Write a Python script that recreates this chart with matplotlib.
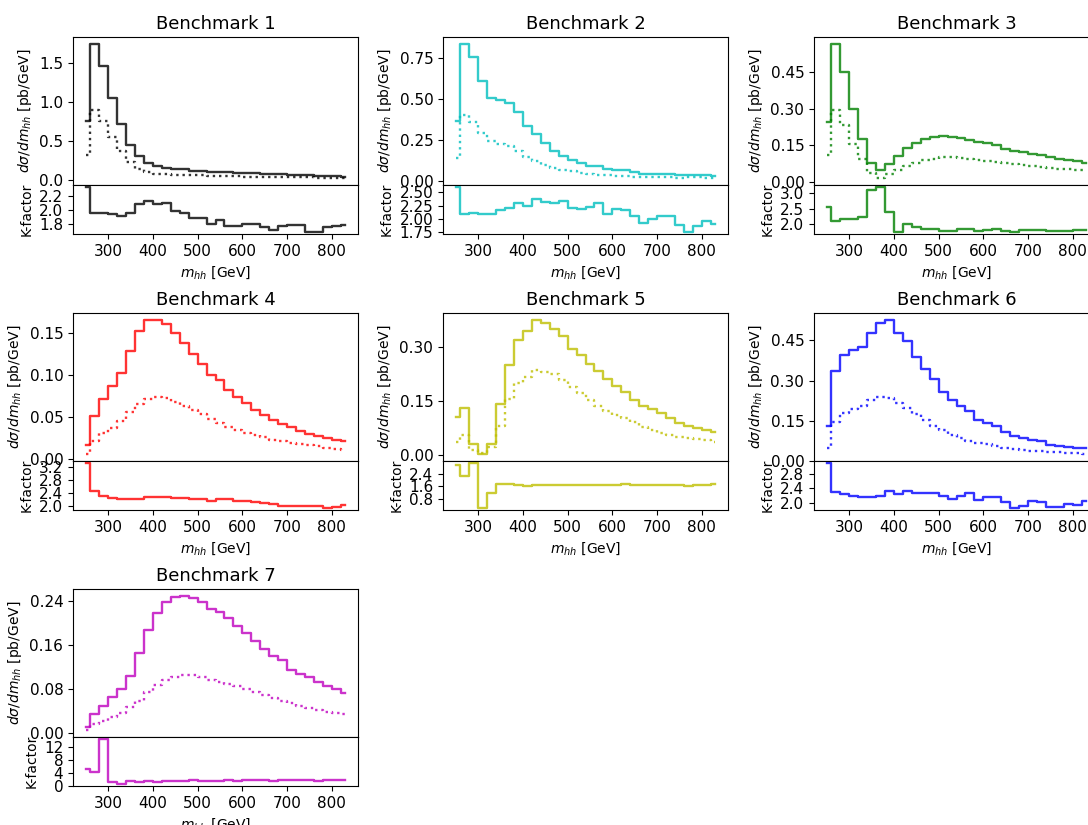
import matplotlib
matplotlib.use('Agg')
import matplotlib.pyplot as plt

# bin centres of m_hh [GeV]
mhh = [250, 270, 290, 310, 330, 350, 370, 390, 410, 430,
       450, 470, 490, 510, 530, 550, 570, 590, 610, 630,
       650, 670, 690, 710, 730, 750, 770, 790, 810, 830]
x_ticks = [300, 400, 500, 600, 700, 800]

# Benchmark 1
nlo_1 = [0.76, 1.75, 1.47, 1.06, 0.72, 0.45, 0.31, 0.22, 0.18, 0.165,
         0.145, 0.145, 0.125, 0.125, 0.105, 0.105, 0.105, 0.09, 0.09, 0.09,
         0.085, 0.085, 0.085, 0.07, 0.07, 0.07, 0.055, 0.055, 0.052, 0.05]
lo_1 = [0.33, 0.90, 0.76, 0.55, 0.38, 0.23, 0.15, 0.103, 0.087, 0.079,
        0.073, 0.074, 0.066, 0.066, 0.058, 0.056, 0.059, 0.051, 0.05, 0.05,
        0.048, 0.049, 0.048, 0.039, 0.039, 0.041, 0.033, 0.031, 0.029, 0.028]
kf_1 = [2.32, 1.95, 1.96, 1.94, 1.92, 1.95, 2.08, 2.13, 2.08, 2.10,
        1.99, 1.96, 1.88, 1.88, 1.80, 1.86, 1.77, 1.77, 1.80, 1.80,
        1.76, 1.72, 1.77, 1.78, 1.78, 1.69, 1.69, 1.76, 1.77, 1.79]

# Benchmark 2
nlo_2 = [0.37, 0.84, 0.76, 0.61, 0.505, 0.495, 0.475, 0.42, 0.335, 0.29,
         0.23, 0.185, 0.155, 0.13, 0.11, 0.095, 0.09, 0.075, 0.065, 0.065,
         0.055, 0.045, 0.045, 0.045, 0.045, 0.04, 0.04, 0.04, 0.037, 0.033]
lo_2 = [0.142, 0.404, 0.36, 0.293, 0.243, 0.228, 0.215, 0.183, 0.149, 0.122,
        0.099, 0.080, 0.067, 0.059, 0.050, 0.043, 0.039, 0.036, 0.030, 0.030,
        0.027, 0.024, 0.023, 0.022, 0.022, 0.021, 0.023, 0.022, 0.019, 0.017]
kf_2 = [2.60, 2.08, 2.11, 2.08, 2.08, 2.17, 2.21, 2.30, 2.25, 2.37,
        2.32, 2.30, 2.33, 2.21, 2.18, 2.23, 2.29, 2.09, 2.18, 2.16,
        2.06, 1.91, 1.99, 2.05, 2.05, 1.87, 1.75, 1.86, 1.95, 1.90]

# Benchmark 3
nlo_3 = [0.245, 0.566, 0.45, 0.30, 0.177, 0.076, 0.049, 0.074, 0.108, 0.139,
         0.161, 0.177, 0.183, 0.188, 0.186, 0.18, 0.172, 0.164, 0.158, 0.15,
         0.136, 0.128, 0.123, 0.115, 0.109, 0.101, 0.094, 0.09, 0.085, 0.079]
lo_3 = [0.11, 0.293, 0.232, 0.157, 0.093, 0.035, 0.015, 0.031, 0.049, 0.065,
        0.079, 0.089, 0.095, 0.101, 0.101, 0.097, 0.093, 0.089, 0.086, 0.082,
        0.078, 0.074, 0.07, 0.066, 0.061, 0.058, 0.055, 0.052, 0.05, 0.048]
kf_3 = [2.57, 2.11, 2.16, 2.16, 2.22, 3.11, 3.20, 2.38, 1.75, 2.00,
        1.91, 1.85, 1.85, 1.78, 1.78, 1.83, 1.83, 1.76, 1.80, 1.84,
        1.78, 1.75, 1.80, 1.80, 1.80, 1.76, 1.76, 1.78, 1.80, 1.80]

# Benchmark 4
nlo_4 = [0.0167, 0.051, 0.0716, 0.087, 0.102, 0.128, 0.152, 0.1655, 0.1655, 0.161,
         0.15, 0.1376, 0.125, 0.1126, 0.1, 0.0935, 0.0823, 0.0736, 0.0664, 0.0585,
         0.052, 0.0465, 0.0414, 0.0378, 0.0334, 0.0302, 0.0274, 0.025, 0.0227, 0.022]
lo_4 = [0.006, 0.0215, 0.031, 0.0374, 0.0457, 0.0565, 0.0656, 0.072, 0.0744, 0.0728,
        0.0684, 0.0632, 0.0585, 0.0537, 0.0481, 0.0434, 0.0386, 0.0346, 0.0314, 0.0286,
        0.0259, 0.0235, 0.0215, 0.0199, 0.0183, 0.0167, 0.0155, 0.0139, 0.0127, 0.0111]
kf_4 = [3.30, 2.46, 2.31, 2.25, 2.21, 2.21, 2.23, 2.29, 2.29, 2.29,
        2.25, 2.25, 2.22, 2.22, 2.16, 2.22, 2.22, 2.16, 2.16, 2.13,
        2.09, 2.07, 2.02, 2.02, 2.02, 2.02, 2.02, 1.96, 1.99, 2.05]

# Benchmark 5
nlo_5 = [0.107, 0.13, 0.0325, 0.003, 0.0325, 0.142, 0.25, 0.317, 0.343, 0.374,
         0.364, 0.349, 0.33, 0.294, 0.276, 0.253, 0.232, 0.211, 0.19, 0.175,
         0.154, 0.137, 0.127, 0.117, 0.104, 0.09, 0.081, 0.075, 0.0706, 0.064]
lo_5 = [0.036, 0.055, 0.015, 0.0056, 0.024, 0.081, 0.156, 0.199, 0.217, 0.234,
        0.231, 0.224, 0.208, 0.189, 0.171, 0.152, 0.136, 0.121, 0.11, 0.104,
        0.092, 0.078, 0.069, 0.062, 0.057, 0.052, 0.048, 0.045, 0.041, 0.038]
kf_5 = [2.94, 2.25, 3.06, 0.26, 1.22, 1.74, 1.74, 1.72, 1.66, 1.70,
        1.70, 1.70, 1.70, 1.68, 1.70, 1.70, 1.70, 1.70, 1.70, 1.74,
        1.70, 1.70, 1.70, 1.72, 1.72, 1.68, 1.66, 1.70, 1.70, 1.74]

# Benchmark 6
nlo_6 = [0.129, 0.337, 0.394, 0.413, 0.425, 0.477, 0.515, 0.527, 0.477, 0.449,
         0.388, 0.343, 0.305, 0.257, 0.229, 0.206, 0.185, 0.154, 0.142, 0.129,
         0.107, 0.092, 0.085, 0.08, 0.073, 0.061, 0.057, 0.052, 0.048, 0.048]
lo_6 = [0.047, 0.144, 0.179, 0.194, 0.206, 0.226, 0.239, 0.234, 0.216, 0.198,
        0.177, 0.154, 0.129, 0.117, 0.098, 0.086, 0.076, 0.067, 0.062, 0.057,
        0.05, 0.045, 0.041, 0.039, 0.036, 0.034, 0.032, 0.03, 0.029, 0.027]
kf_6 = [3.08, 2.31, 2.25, 2.20, 2.17, 2.17, 2.20, 2.32, 2.24, 2.33,
        2.26, 2.26, 2.26, 2.20, 2.12, 2.20, 2.28, 2.08, 2.15, 2.15,
        2.02, 1.87, 1.93, 2.06, 2.03, 1.89, 1.89, 1.98, 1.94, 2.06]

# Benchmark 7
nlo_7 = [0.011, 0.034, 0.05, 0.065, 0.081, 0.103, 0.145, 0.187, 0.219, 0.238,
         0.247, 0.25, 0.245, 0.239, 0.226, 0.22, 0.209, 0.195, 0.183, 0.167,
         0.153, 0.141, 0.133, 0.114, 0.107, 0.102, 0.092, 0.085, 0.081, 0.073]
lo_7 = [0.005, 0.016, 0.022, 0.029, 0.036, 0.047, 0.059, 0.074, 0.087, 0.097,
        0.102, 0.105, 0.1055, 0.102, 0.097, 0.092, 0.09, 0.085, 0.081, 0.075,
        0.07, 0.064, 0.059, 0.055, 0.05, 0.046, 0.042, 0.039, 0.036, 0.035]
kf_7 = [5.3, 4.4, 14.4, 1.2, 0.7, 1.6, 1.2, 1.5, 1.2, 1.5,
        1.5, 1.6, 1.8, 1.6, 1.6, 1.6, 1.8, 1.6, 1.8, 1.8,
        1.8, 1.6, 1.8, 1.8, 1.8, 1.8, 1.6, 1.8, 1.8, 1.8]

nlo = [nlo_1, nlo_2, nlo_3, nlo_4, nlo_5, nlo_6, nlo_7]
lo = [lo_1, lo_2, lo_3, lo_4, lo_5, lo_6, lo_7]
kf = [kf_1, kf_2, kf_3, kf_4, kf_5, kf_6, kf_7]
colors = ['k', 'c', 'g', 'r', 'y', 'b', 'm']

main_ticks = [[0, 0.5, 1.0, 1.5], [0, 0.25, 0.5, 0.75], [0, 0.15, 0.3, 0.45],
              [0, 0.05, 0.1, 0.15], [0, 0.15, 0.3], [0, 0.15, 0.3, 0.45],
              [0, 0.08, 0.16, 0.24]]
k_ticks = [[1.8, 2.0, 2.2], [1.75, 2.0, 2.25, 2.5], [2.0, 2.5, 3.0],
           [2.0, 2.4, 2.8, 3.2], [0.8, 1.6, 2.4], [2.0, 2.4, 2.8], [0, 4, 8, 12]]

W, H = 1088, 825
col_left = [73, 443, 814]
row_top = [37, 313, 589]


def px_axes(fig, x, y, w, h, **kw):
    return fig.add_axes([x / W, 1 - (y + h) / H, w / W, h / H], **kw)


def plot_benchmarks():
    plt.rcParams['font.size'] = 11
    plt.rcParams['axes.labelsize'] = 10
    plt.rcParams['axes.titlesize'] = 13
    fig = plt.figure(figsize=(W / 100, H / 100), dpi=100)
    for i in range(7):
        r, c = divmod(i, 3)
        ax = px_axes(fig, col_left[c], row_top[r], 285, 148)
        rax = px_axes(fig, col_left[c], row_top[r] + 148, 285, 49, sharex=ax)

        ax.step(mhh, nlo[i], where='mid', color=colors[i], alpha=0.8, lw=1.7)
        ax.step(mhh, lo[i], where='mid', color=colors[i], alpha=0.8, lw=1.7, ls=':')
        ax.set_yticks(main_ticks[i])
        ax.tick_params(labelbottom=False)
        ax.set_ylabel(r'$d\sigma/dm_{hh}$ [pb/GeV]')
        ax.set_title('Benchmark %d' % (i + 1))

        rax.step(mhh, kf[i], where='mid', color=colors[i], alpha=0.8, lw=1.7)
        rax.set_yticks(k_ticks[i])
        rax.set_xticks(x_ticks)
        rax.set_ylabel('K-factor')
        rax.set_xlabel(r'$m_{hh}$ [GeV]')

    fig.savefig('out.png', dpi=100)


if __name__ == '__main__':
    plot_benchmarks()
